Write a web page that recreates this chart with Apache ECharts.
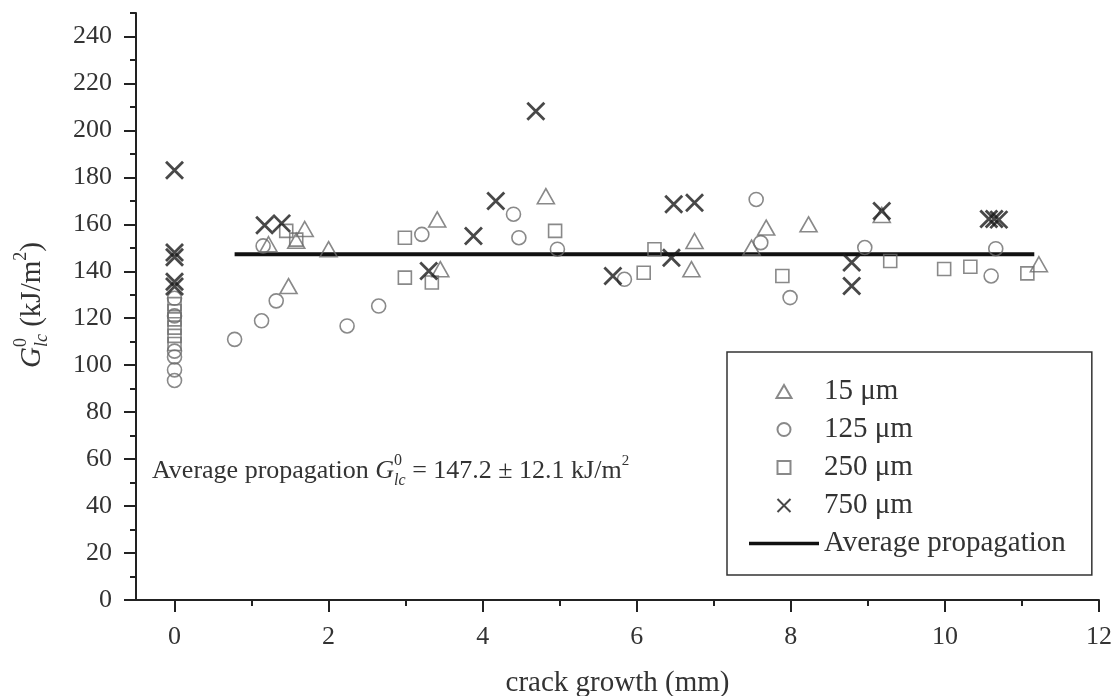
<!DOCTYPE html>
<html>
<head>
<meta charset="UTF-8">
<title>Crack growth vs G0Ic</title>
<script src="https://cdn.jsdelivr.net/npm/echarts@6/dist/echarts.min.js"></script>
</head>
<body style="margin:0;">
<div id="container" style="width:1111px;height:696px;"></div>
<script type="text/javascript">
var dom = document.getElementById('container');
var myChart = echarts.init(dom, null, { renderer: 'canvas' });

// data: [crack growth (mm), G (kJ/m2)]
var tri15 = [
  [1.22, 151.5], [1.58, 153], [1.69, 158], [1.48, 133.7], [2.0, 149.4],
  [3.41, 162.1], [3.45, 140.9], [4.82, 172], [6.75, 152.9], [6.71, 140.9],
  [7.49, 150.1], [7.68, 158.6], [8.23, 160], [9.18, 164], [11.22, 143]
];
var circ125 = [
  [0, 128.5], [0, 121], [0, 106], [0, 103.5], [0, 98], [0, 93.5],
  [0.78, 111], [1.13, 118.9], [1.32, 127.4], [1.15, 150.8], [2.24, 116.7],
  [2.65, 125.2], [3.21, 155.7], [4.40, 164.3], [4.47, 154.3], [4.97, 149.4],
  [5.84, 136.6], [7.55, 170.6], [7.61, 152.2], [7.99, 128.8], [8.96, 150.1],
  [10.66, 149.6], [10.6, 138]
];
var sq250 = [
  [0, 126], [0, 123], [0, 119.5], [0, 116], [0, 112.5], [0, 109],
  [1.45, 157.2], [1.58, 153.5], [2.99, 154.3], [2.99, 137.3], [3.34, 135.2],
  [4.94, 157.2], [6.09, 139.4], [6.23, 149.4], [7.89, 138], [9.29, 144.4],
  [9.99, 141], [10.33, 141.9], [11.07, 139.1]
];
var x750 = [
  [0, 183], [0, 148], [0, 146], [0, 135.5], [0, 133.5],
  [1.17, 159.6], [1.39, 160.4], [3.30, 140.1], [3.88, 155], [4.17, 169.9],
  [4.69, 208.2], [5.69, 138], [6.45, 145.8], [6.48, 168.5], [6.75, 169.2],
  [8.79, 143.7], [8.79, 133.7], [9.18, 165.7], [10.57, 162.3], [10.64, 162.3],
  [10.7, 162]
];
var avgLine = [[0.78, 147.2], [11.16, 147.2]];

var xMajor = [0, 2, 4, 6, 8, 10, 12];
var xMinor = [1, 3, 5, 7, 9, 11];
var yMajor = [0, 20, 40, 60, 80, 100, 120, 140, 160, 180, 200, 220, 240];
var yMinor = [10, 30, 50, 70, 90, 110, 130, 150, 170, 190, 210, 230, 250];

var seriesNames = ['15 μm', '125 μm', '250 μm', '750 μm', 'Average propagation'];

var FONT = '"Liberation Serif", "Times New Roman", serif';
var TXT = '#333';
var AX = '#222';
var GREY = '#6c6c6c';

var triPath = 'path://M5,0L10,8.66L0,8.66Z';
var sqPath = 'path://M0,0H10V10H0Z';
var crossPath = 'path://M0,0L10,10M10,0L0,10';
var lineIcon = 'path://M0,0H70V3.5H0Z';

// lay out a line of text pieces (with super/subscripts) as graphic children
var mctx = document.createElement('canvas').getContext('2d');
function seq(parts) {
  var x = 0, kids = [];
  parts.forEach(function (p) {
    var font = (p.it ? 'italic ' : '') + p.s + 'px ' + FONT;
    mctx.font = font;
    var w = mctx.measureText(p.t).width;
    kids.push({
      type: 'text', x: x, y: p.dy || 0,
      style: { text: p.t, font: font, fill: TXT, textVerticalAlign: 'middle', verticalAlign: 'middle' }
    });
    if (!p.stack) x += w;
  });
  return kids;
}

var option = {
  animation: false,
  grid: { left: 136, right: 12, top: 13, bottom: 96, containLabel: false, outerBoundsMode: 'none' },
  legend: {
    data: [seriesNames[0], seriesNames[1], seriesNames[2], seriesNames[3],
      { name: seriesNames[4], icon: lineIcon }],
    orient: 'vertical',
    left: 727, top: 352,
    padding: [25, 26, 17, 22],
    itemWidth: 70, itemHeight: 13, itemGap: 9,
    borderColor: '#333', borderWidth: 1.5,
    textStyle: { fontFamily: FONT, fontSize: 29, color: TXT }
  },
  xAxis: [
    {
      type: 'value', min: -0.5, max: 12, position: 'bottom',
      axisLine: { onZero: false, lineStyle: { color: AX, width: 2 } },
      axisTick: { customValues: xMinor, length: 6, lineStyle: { color: AX, width: 2 } },
      axisLabel: { show: false },
      splitLine: { show: false }
    },
    {
      type: 'value', min: -0.5, max: 12, position: 'bottom',
      axisLine: { show: false, onZero: false },
      axisTick: { customValues: xMajor, length: 12, lineStyle: { color: AX, width: 2 } },
      axisLabel: { customValues: xMajor, margin: 24, fontFamily: FONT, fontSize: 26, color: TXT },
      splitLine: { show: false },
      name: 'crack growth (mm)',
      nameLocation: 'middle',
      nameGap: 69,
      nameTextStyle: { fontFamily: FONT, fontSize: 29, color: TXT }
    }
  ],
  yAxis: [
    {
      type: 'value', min: 0, max: 250, position: 'left',
      axisLine: { onZero: false, lineStyle: { color: AX, width: 2 } },
      axisTick: { customValues: yMinor, length: 6, lineStyle: { color: AX, width: 2 } },
      axisLabel: { show: false },
      splitLine: { show: false }
    },
    {
      type: 'value', min: 0, max: 250, position: 'left',
      axisLine: { show: false, onZero: false },
      axisTick: { customValues: yMajor, length: 12, lineStyle: { color: AX, width: 2 } },
      axisLabel: { customValues: yMajor, margin: 24, fontFamily: FONT, fontSize: 26, color: TXT },
      splitLine: { show: false }
    }
  ],
  graphic: [
    {
      type: 'group', x: 152, y: 471,
      children: seq([
        { t: 'Average propagation ', s: 26 },
        { t: 'G', s: 26, it: true },
        { t: '0', s: 16, dy: -10, stack: true },
        { t: 'lc', s: 16, it: true, dy: 10 },
        { t: ' = 147.2 ± 12.1 kJ/m', s: 26 },
        { t: '2', s: 15, dy: -10 }
      ])
    },
    {
      type: 'group', x: 32, y: 368, rotation: Math.PI / 2,
      children: seq([
        { t: 'G', s: 29, it: true },
        { t: '0', s: 18, dy: -11, stack: true },
        { t: 'lc', s: 18, it: true, dy: 10 },
        { t: ' (kJ/m', s: 29 },
        { t: '2', s: 18, dy: -11 },
        { t: ')', s: 29 }
      ])
    }
  ],
  series: [
    {
      name: seriesNames[0], type: 'scatter', data: tri15,
      symbol: triPath, symbolSize: [17, 15],
      itemStyle: { color: 'transparent', borderColor: GREY, borderWidth: 1.6 }
    },
    {
      name: seriesNames[1], type: 'scatter', data: circ125,
      symbol: 'circle', symbolSize: 14,
      itemStyle: { color: 'transparent', borderColor: GREY, borderWidth: 1.6 }
    },
    {
      name: seriesNames[2], type: 'scatter', data: sq250,
      symbol: sqPath, symbolSize: 13,
      itemStyle: { color: 'transparent', borderColor: GREY, borderWidth: 1.6 }
    },
    {
      name: seriesNames[3], type: 'scatter', data: x750,
      symbol: crossPath, symbolSize: 17,
      itemStyle: { color: 'transparent', borderColor: '#1a1a1a', borderWidth: 2.8 }
    },
    {
      name: seriesNames[4], type: 'line', data: avgLine,
      symbol: 'none', showSymbol: false,
      itemStyle: { color: '#111' },
      lineStyle: { color: '#111', width: 4 },
      z: 1
    }
  ]
};

myChart.setOption(option);
</script>
</body>
</html>
